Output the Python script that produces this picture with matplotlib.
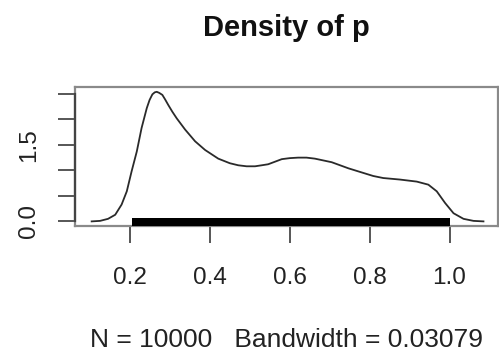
import matplotlib
matplotlib.use("Agg")
import matplotlib.pyplot as plt

# Density estimate (x, density)
dens_x = [0.104, 0.125, 0.145, 0.163, 0.179, 0.192, 0.204, 0.217, 0.229, 0.242,
          0.249, 0.256, 0.262, 0.267, 0.273, 0.281, 0.288, 0.296, 0.306, 0.317,
          0.338, 0.363, 0.388, 0.421, 0.450, 0.471, 0.492, 0.513, 0.530, 0.546,
          0.563, 0.580, 0.600, 0.621, 0.642, 0.663, 0.705, 0.747, 0.780, 0.809,
          0.834, 0.876, 0.918, 0.947, 0.968, 0.989, 1.010, 1.035, 1.060, 1.085]
dens_y = [0.00, 0.01, 0.05, 0.13, 0.33, 0.59, 0.98, 1.37, 1.83, 2.22,
          2.38, 2.49, 2.53, 2.54, 2.52, 2.48, 2.39, 2.28, 2.15, 2.02,
          1.80, 1.57, 1.40, 1.23, 1.14, 1.10, 1.08, 1.08, 1.10, 1.12,
          1.17, 1.22, 1.24, 1.25, 1.25, 1.23, 1.16, 1.04, 0.96, 0.89,
          0.85, 0.82, 0.78, 0.72, 0.59, 0.36, 0.16, 0.05, 0.01, 0.00]

# rug spans the full sample range (10000 points -> solid bar)
rug_x = [0.204, 1.001]

x_ticks = [0.2, 0.4, 0.6, 0.8, 1.0]
x_tick_labels = ["0.2", "0.4", "0.6", "0.8", "1.0"]
y_ticks = [0.0, 0.5, 1.0, 1.5, 2.0, 2.5]
y_tick_labels = ["0.0", "", "", "1.5", "", ""]

title = "Density of p"
xlabel = "N = 10000   Bandwidth = 0.03079"

plt.rcParams["font.family"] = ["Liberation Sans", "DejaVu Sans"]

fig = plt.figure(figsize=(4.99, 3.55), dpi=100)
ax = fig.add_axes([0.1503, 0.362, 0.8477, 0.393])

xlim = (0.0623, 1.1214)
ylim = (-0.1, 2.635)
ax.set_xlim(*xlim)
ax.set_ylim(*ylim)

ax.plot(dens_x, dens_y, color="#2a2a2a", lw=1.3, solid_joinstyle="round")

# rug
ax.fill_between(rug_x, ylim[0], 0.06, color="black", lw=0, zorder=3)

for s in ax.spines.values():
    s.set_color("#8a8a8a")
    s.set_linewidth(1.6)

# R style axis line on the left between first and last tick
ax.plot([xlim[0], xlim[0]], [y_ticks[0], y_ticks[-1]], color="#444444",
        lw=1.6, clip_on=False, zorder=4)

ax.set_xticks(x_ticks)
ax.set_xticklabels(x_tick_labels)
ax.set_yticks(y_ticks)
ax.set_yticklabels(y_tick_labels, rotation=90, va="center")
ax.tick_params(axis="both", direction="out", length=12, width=1.2,
               color="#3a3a3a", labelcolor="#222222", labelsize=17.5)
ax.tick_params(axis="x", pad=17)
ax.tick_params(axis="y", pad=13)

ax.set_title(title, fontsize=21, fontweight="bold", pad=37, color="#111111")
ax.set_xlabel(xlabel, fontsize=19, labelpad=28, color="#222222")

fig.savefig("out.png", dpi=100)
